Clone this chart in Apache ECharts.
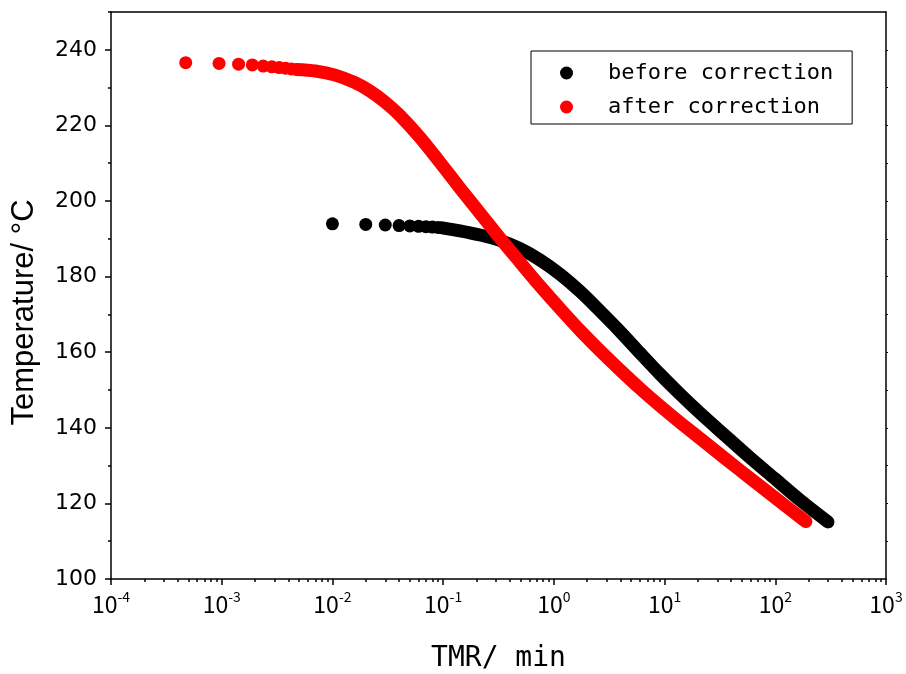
<!DOCTYPE html>
<html>
<head>
<meta charset="utf-8">
<script src="https://cdn.jsdelivr.net/npm/echarts@6/dist/echarts.min.js"></script>
<style>
html,body{margin:0;padding:0;background:#fff;}
#chart{width:906px;height:674px;}
</style>
</head>
<body>
<div id="chart"></div>
<script>
// ---- data ----
const seriesNames = ['before correction', 'after correction'];

// before correction: isolated dots at the start
const blackDotsTMR = [0.01, 0.02, 0.03, 0.04, 0.05, 0.06, 0.07, 0.08, 0.09];
const blackDotsT   = [193.95, 193.8, 193.65, 193.5, 193.4, 193.3, 193.2, 193.1, 193.0];
// before correction: dense part (appears as a continuous band)
const blackCurveTMR = [0.098, 0.142, 0.215, 0.326, 0.495, 0.750, 1.14, 1.72, 2.61, 3.96, 6.00, 9.09, 13.8, 20.9, 35.1, 59.1, 99.4, 167, 299];
const blackCurveT   = [192.9, 192.1, 191.0, 189.6, 187.4, 184.4, 180.6, 176.1, 170.9, 165.5, 159.8, 154.2, 148.9, 143.9, 138.0, 132.1, 126.5, 120.9, 115.1];

// after correction: isolated dots at the start
const redDotsTMR = [0.000473, 0.000946, 0.00142, 0.00189, 0.00237, 0.00284, 0.00331, 0.00378, 0.00426];
const redDotsT   = [236.6, 236.4, 236.2, 236.0, 235.7, 235.5, 235.3, 235.15, 234.95];
// after correction: dense part
const redCurveTMR = [0.0047, 0.0070, 0.0106, 0.0160, 0.0218, 0.0298, 0.0408, 0.0618, 0.0937, 0.142, 0.215, 0.326, 0.495, 0.750, 1.14, 1.72, 2.61, 3.96, 6.00, 9.09, 13.8, 20.9, 35.1, 59.1, 99.4, 167, 189];
const redCurveT   = [234.8, 234.4, 233.3, 231.3, 229.1, 226.2, 222.6, 216.8, 210.2, 203.4, 196.8, 190.2, 183.8, 177.5, 171.5, 165.8, 160.4, 155.3, 150.4, 145.8, 141.4, 137.2, 131.9, 126.7, 121.5, 116.4, 115.2];

// axis ticks
const xDecades = [1e-4, 1e-3, 1e-2, 1e-1, 1, 10, 100, 1000];
const xMinorTicks = [];
xDecades.slice(0, -1).forEach(function (d) {
  [2, 3, 4, 5, 6, 7, 8, 9].forEach(function (k) { xMinorTicks.push(+(k * d).toPrecision(3)); });
});
const yMajorTicks = [100, 120, 140, 160, 180, 200, 220, 240];
const yMinorTicks = [110, 130, 150, 170, 190, 210, 230, 250];
const yAllTicks = [110, 120, 130, 140, 150, 160, 170, 180, 190, 200, 210, 220, 230, 240];

function zip(a, b) { return a.map(function (v, i) { return [v, b[i]]; }); }

const chart = echarts.init(document.getElementById('chart'), null, { renderer: 'canvas' });

const lineCommon = { type: 'line', showSymbol: false, symbol: 'none', smooth: 0.3,
  animation: false, xAxisIndex: 0, yAxisIndex: 0 };
const dotCommon = { type: 'scatter', symbol: 'circle', symbolSize: 13, animation: false,
  xAxisIndex: 0, yAxisIndex: 0 };

const axisBlack = { color: '#000', width: 1.5 };

const option = {
  backgroundColor: '#fff',
  animation: false,
  grid: { left: 111, right: 20, top: 12, bottom: 95, containLabel: false, outerBoundsMode: 'none' },
  legend: {
    orient: 'vertical', left: 531, top: 51,
    padding: [10, 19, 5, 29],
    itemWidth: 13, itemHeight: 13, itemGap: 10,
    borderColor: '#000', borderWidth: 1,
    data: [
      { name: seriesNames[0], icon: 'circle', itemStyle: { color: '#000', opacity: 1 } },
      { name: seriesNames[1], icon: 'circle', itemStyle: { color: '#ff0000', opacity: 1 } }
    ],
    formatter: function (n) { return '{g| }' + n; },
    textStyle: {
      color: '#000', fontSize: 22, lineHeight: 24, fontFamily: 'DejaVu Sans Mono',
      rich: { g: { width: 30 } }
    },
    selectedMode: false
  },
  xAxis: [
    {
      type: 'log', logBase: 10, min: 1e-4, max: 1e3, position: 'bottom',
      name: 'TMR/ min', nameLocation: 'middle', nameGap: 66,
      nameTextStyle: { color: '#000', fontSize: 28, fontFamily: 'DejaVu Sans Mono' },
      axisLine: { show: true, onZero: false, lineStyle: axisBlack },
      axisTick: { show: true, inside: false, length: 6, lineStyle: axisBlack },
      minorTick: { show: false },
      splitLine: { show: false },
      axisLabel: {
        show: true, margin: 11, color: '#000',
        formatter: function (v) {
          const e = Math.round(Math.log10(v));
          return '{b|10}{s|' + e + '}';
        },
        rich: {
          b: { fontSize: 23, fontFamily: 'Noto Sans CJK JP', color: '#000', lineHeight: 28 },
          s: { fontSize: 14, fontFamily: 'Noto Sans CJK JP', color: '#000', padding: [0, 0, 14, 0] }
        }
      }
    },
    {
      type: 'log', logBase: 10, min: 1e-4, max: 1e3, position: 'bottom',
      axisLine: { show: false, onZero: false },
      axisTick: { show: true, inside: false, length: 3, customValues: xMinorTicks, lineStyle: axisBlack },
      axisLabel: { show: false },
      splitLine: { show: false }
    },
    {
      type: 'log', logBase: 10, min: 1e-4, max: 1e3, position: 'top',
      axisLine: { show: true, onZero: false, lineStyle: axisBlack },
      axisTick: { show: false },
      axisLabel: { show: false },
      splitLine: { show: false }
    }
  ],
  yAxis: [
    {
      type: 'value', min: 100, max: 250, interval: 20, position: 'left',
      name: 'Temperature/ °C', nameLocation: 'middle', nameGap: 71, nameRotate: 90,
      nameTextStyle: { color: '#000', fontSize: 31, fontFamily: 'Liberation Sans', padding: [0, 34, 0, 0] },
      axisLine: { show: true, onZero: false, lineStyle: axisBlack },
      axisTick: { show: true, inside: false, length: 6, customValues: yMajorTicks, lineStyle: axisBlack },
      axisLabel: { show: true, margin: 14, color: '#000', fontSize: 22, fontFamily: 'DejaVu Sans', customValues: yMajorTicks },
      splitLine: { show: false }
    },
    {
      type: 'value', min: 100, max: 250, position: 'left',
      axisLine: { show: false, onZero: false },
      axisTick: { show: true, inside: false, length: 3, customValues: yMinorTicks, lineStyle: axisBlack },
      axisLabel: { show: false },
      splitLine: { show: false }
    },
    {
      type: 'value', min: 100, max: 250, position: 'right',
      axisLine: { show: true, onZero: false, lineStyle: axisBlack },
      axisTick: { show: true, inside: false, length: 2, customValues: yAllTicks, lineStyle: { color: '#000', width: 1 } },
      axisLabel: { show: false },
      splitLine: { show: false }
    }
  ],
  series: [
    Object.assign({}, dotCommon, { name: seriesNames[0], itemStyle: { color: '#000', opacity: 1 }, data: zip(blackDotsTMR, blackDotsT), z: 2 }),
    Object.assign({}, lineCommon, { name: seriesNames[0], itemStyle: { color: '#000' },
      lineStyle: { color: '#000', width: 13, cap: 'round', join: 'round', opacity: 1 }, data: zip(blackCurveTMR, blackCurveT), z: 2 }),
    Object.assign({}, dotCommon, { name: seriesNames[1], itemStyle: { color: '#ff0000', opacity: 1 }, data: zip(redDotsTMR, redDotsT), z: 3 }),
    Object.assign({}, lineCommon, { name: seriesNames[1], itemStyle: { color: '#ff0000' },
      lineStyle: { color: '#ff0000', width: 13, cap: 'round', join: 'round', opacity: 1 }, data: zip(redCurveTMR, redCurveT), z: 3 })
  ]
};
chart.setOption(option);
</script>
</body>
</html>
